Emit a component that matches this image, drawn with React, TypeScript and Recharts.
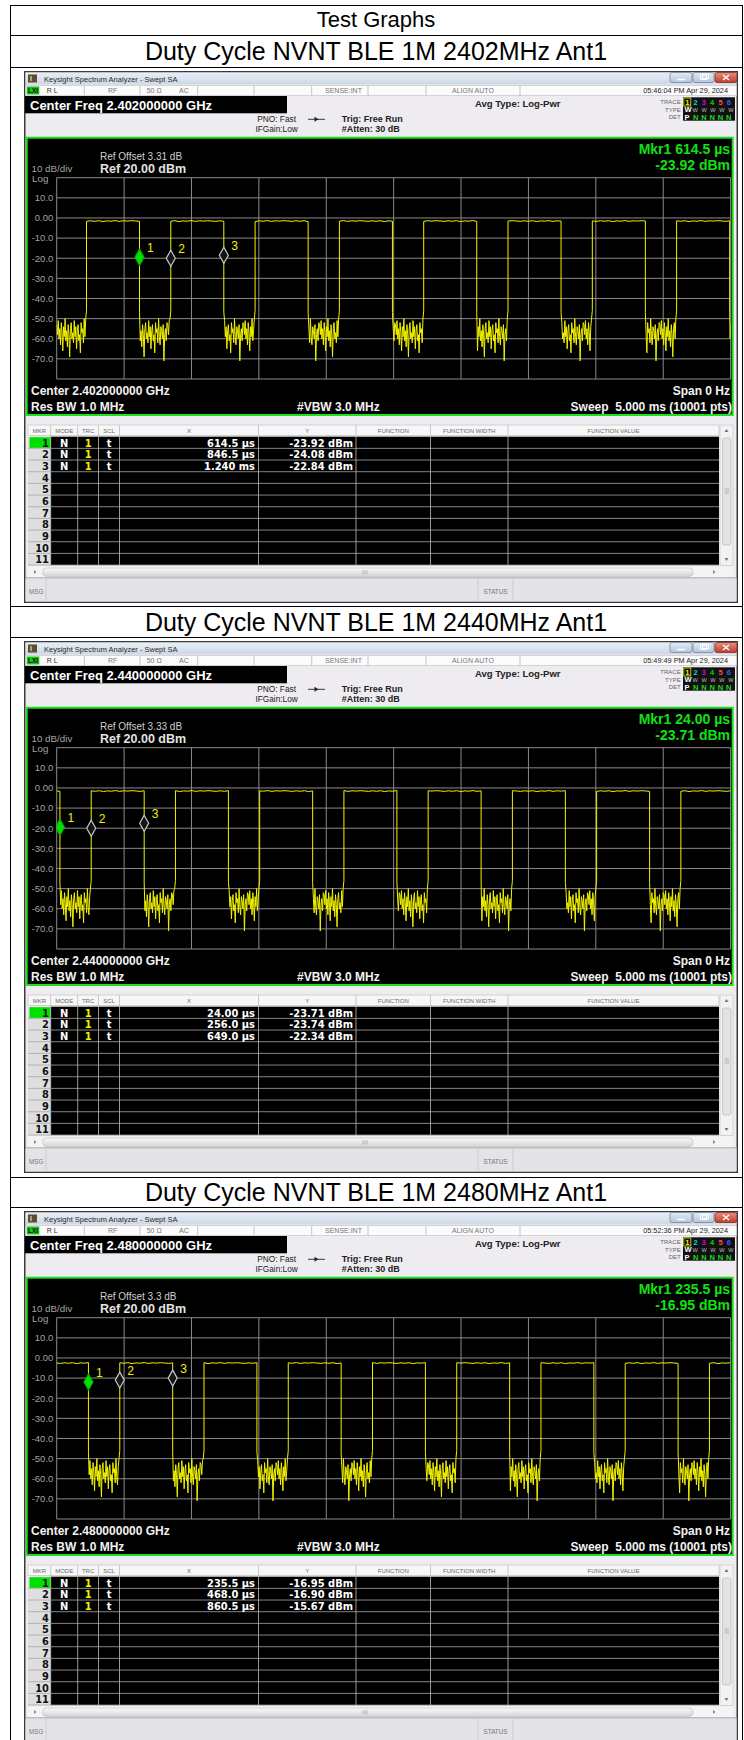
import { ComposedChart, Line, Scatter, XAxis, YAxis, CartesianGrid } from "recharts";

const SANS = "'Liberation Sans', Arial, sans-serif";
const NARROW = "'Liberation Sans Narrow', 'DejaVu Sans Condensed', 'Liberation Sans', sans-serif";

const SWEEP_US = 5000;
const TIME_TICKS = [0, 500, 1000, 1500, 2000, 2500, 3000, 3500, 4000, 4500, 5000];
const LEVEL_TICKS = [20, 10, 0, -10, -20, -30, -40, -50, -60, -70, -80];

// off-state noise floor (dBm)
const NOISE_DBM = [
  -53, -58, -51, -60, -55, -63, -52, -57, -66, -54, -59, -50,
  -61, -56, -64, -53, -58, -69, -55, -52, -60, -57, -62, -51,
  -59, -54, -65, -56, -53, -61, -58, -67, -52, -57, -55, -62,
  -50, -59, -63, -54, -56, -60, -53, -71, -58, -55, -61, -52,
];
const ON_RIPPLE_DB = [0, -0.2, 0.1, -0.15, 0.15, -0.3, 0.05, -0.1, 0.2, -0.2, 0.1, -0.05, 0.15];
const EDGE_FALL_DBM = -47;
const EDGE_RISE_DBM = [-50, -46];

const TITLES = [
  "Duty Cycle NVNT BLE 1M 2402MHz Ant1",
  "Duty Cycle NVNT BLE 1M 2440MHz Ant1",
  "Duty Cycle NVNT BLE 1M 2480MHz Ant1",
];
const CENTER_GHZ = ["2.402000000", "2.440000000", "2.480000000"];
const REF_OFFSET_DB = ["3.31", "3.33", "3.3"];
const TIMESTAMPS = ["05:46:04 PM Apr 29, 2024", "05:49:49 PM Apr 29, 2024", "05:52:36 PM Apr 29, 2024"];
const ON_LEVEL_DBM = [-1.5, -1.5, -2.5];

// pulse edges, µs
const RISE_2402 = [221, 846.5, 1472, 2097.5, 2723, 3348.5, 3974, 4599.5];
const FALL_2402 = [614.5, 1240, 1865.5, 2491, 3116.5, 3742, 4367.5, 4993];
const RISE_2440 = [256, 881, 1506, 2131, 2756, 3381, 4006, 4631];
const FALL_2440 = [24, 649, 1274, 1899, 2524, 3149, 3774, 4399];
const RISE_2480 = [468, 1093, 1718, 2343, 2968, 3593, 4218, 4843];
const FALL_2480 = [235.5, 860.5, 1485.5, 2110.5, 2735.5, 3360.5, 3985.5, 4610.5];

// marker table
const MKR_T_2402 = [614.5, 846.5, 1240];
const MKR_Y_2402 = [-23.92, -24.08, -22.84];
const MKR_T_2440 = [24, 256, 649];
const MKR_Y_2440 = [-23.71, -23.74, -22.34];
const MKR_T_2480 = [235.5, 468, 860.5];
const MKR_Y_2480 = [-16.95, -16.9, -15.67];
// level where the diamonds are drawn on screen
const MKR_DRAWN_2402 = [-19.5, -20, -18.5];
const MKR_DRAWN_2440 = [-19.5, -20, -17.5];
const MKR_DRAWN_2480 = [-12, -11, -10];

const SECTIONS = [
  { rise: RISE_2402, fall: FALL_2402, mt: MKR_T_2402, my: MKR_Y_2402, md: MKR_DRAWN_2402 },
  { rise: RISE_2440, fall: FALL_2440, mt: MKR_T_2440, my: MKR_Y_2440, md: MKR_DRAWN_2440 },
  { rise: RISE_2480, fall: FALL_2480, mt: MKR_T_2480, my: MKR_Y_2480, md: MKR_DRAWN_2480 },
];

const TITLE_TOP = [35.5, 606.5, 1177];
const SCREEN_TOP = [71, 640.5, 1211];

type Pt = { t: number; v: number };

function buildTrace(rise: number[], fall: number[], onLevel: number): Pt[] {
  const edges = [...rise.map((t) => ({ t, up: true })), ...fall.map((t) => ({ t, up: false }))].sort((a, b) => a.t - b.t);
  const pts: Pt[] = [];
  let on = !edges[0].up;
  let from = 0;
  let gap = 0;
  const stops = [...edges.map((e) => e.t), SWEEP_US];
  stops.forEach((to, i) => {
    const span = to - from;
    if (on) {
      const n = Math.max(2, Math.round(span / 30) + 1);
      for (let k = 0; k < n; k++) {
        pts.push({ t: from + (span * k) / (n - 1), v: onLevel + ON_RIPPLE_DB[(k + i) % ON_RIPPLE_DB.length] });
      }
    } else {
      const n = Math.max(3, Math.round(span / 5.5));
      for (let k = 0; k < n; k++) {
        let v = NOISE_DBM[(gap * 11 + k) % NOISE_DBM.length];
        if (k === 0 && from > 0) v = EDGE_FALL_DBM;
        if (to < SWEEP_US && k === n - 2) v = EDGE_RISE_DBM[0];
        if (to < SWEEP_US && k === n - 1) v = EDGE_RISE_DBM[1];
        pts.push({ t: from + (span * k) / (n - 1), v });
      }
      gap++;
    }
    on = !on;
    from = to;
  });
  return pts;
}

const fmtTime = (t: number) => (t < 1000 ? `${t.toPrecision(4)} µs` : `${(t / 1000).toPrecision(4)} ms`);
const fmtLevel = (v: number) => (v === 20 || v === -80 ? "" : v === 0 ? "0.00" : v.toFixed(1));

const MarkerShape = (p: any) => {
  const { cx, cy, payload } = p;
  const active = payload.n === 1;
  return (
    <g>
      <polygon
        points={`${cx},${cy - 8} ${cx + 4.5},${cy} ${cx},${cy + 8} ${cx - 4.5},${cy}`}
        fill={active ? "#00e000" : "#151515"}
        stroke={active ? "#00b400" : "#c8c8c8"}
        strokeWidth={1.2}
      />
      <text x={cx + 7.5} y={cy - 5.5} fill="#f0f000" fontSize={12} fontFamily={SANS}>
        {payload.n}
      </text>
    </g>
  );
};

const COLS = [4, 26.7, 53.7, 74.5, 95.5, 234.5, 332, 406.5, 484, 695];
const HEADS = ["MKR", "MODE", "TRC", "SCL", "X", "Y", "FUNCTION", "FUNCTION WIDTH", "FUNCTION VALUE"];
const ROW0 = 365.7;
const ROW_H = 11.67;
const STATUS_SEPS = [60.3, 116, 173.7, 230, 287.7, 344, 402, 496];

function Chrome({ idx }: { idx: number }) {
  const g = `s${idx}`;
  const s = SECTIONS[idx];
  const rows = Array.from({ length: 11 }, (_, i) => i);
  return (
    <svg width={714} height={532} style={{ position: "absolute", left: 0, top: 0 }} fontFamily={SANS}>
      <defs>
        <linearGradient id={`${g}tb`} x1="0" y1="0" x2="0" y2="1">
          <stop offset="0" stopColor="#e8eef6" />
          <stop offset="1" stopColor="#cdd8e6" />
        </linearGradient>
        <linearGradient id={`${g}bt`} x1="0" y1="0" x2="0" y2="1">
          <stop offset="0" stopColor="#e4ecf6" />
          <stop offset="1" stopColor="#b4c6dc" />
        </linearGradient>
        <linearGradient id={`${g}cl`} x1="0" y1="0" x2="0" y2="1">
          <stop offset="0" stopColor="#e8907f" />
          <stop offset="1" stopColor="#c03c2c" />
        </linearGradient>
        <linearGradient id={`${g}sb`} x1="0" y1="0" x2="0" y2="1">
          <stop offset="0" stopColor="#fafafa" />
          <stop offset="1" stopColor="#d4d4d8" />
        </linearGradient>
      </defs>
      <rect x={0.75} y={0.75} width={712.5} height={530.5} fill="#eeecf0" stroke="#3a3a3a" strokeWidth={1.5} />

      {/* window title bar */}
      <rect x={1.5} y={1.5} width={711} height={12} fill={`url(#${g}tb)`} />
      <rect x={4} y={3.5} width={9} height={8} fill="#5c4c34" />
      <rect x={6} y={5} width={2} height={5} fill="#b0a080" />
      <text x={20} y={10.5} fontSize={7.5} fill="#2a2a2a">Keysight Spectrum Analyzer - Swept SA</text>
      <rect x={646} y={1.5} width={22} height={10} rx={2} fill={`url(#${g}bt)`} stroke="#70869f" strokeWidth={0.8} />
      <line x1={653} y1={8.5} x2={661} y2={8.5} stroke="#fff" strokeWidth={1.5} />
      <rect x={669} y={1.5} width={21} height={10} rx={2} fill={`url(#${g}bt)`} stroke="#70869f" strokeWidth={0.8} />
      <rect x={676.5} y={4} width={6} height={4.5} fill="none" stroke="#fff" strokeWidth={1} />
      <rect x={678.5} y={3} width={6} height={4.5} fill="none" stroke="#fff" strokeWidth={1} />
      <rect x={691} y={1.5} width={22} height={10} rx={2} fill={`url(#${g}cl)`} stroke="#8a2a20" strokeWidth={0.8} />
      <path d="M699 4 L705 9 M705 4 L699 9" stroke="#fff" strokeWidth={1.4} />

      {/* status line */}
      <rect x={1.5} y={14.5} width={711} height={10} fill="#fbfbfc" stroke="#c6c6ca" strokeWidth={0.7} />
      <rect x={2.7} y={15.5} width={12.6} height={8} fill="#19c419" />
      <text x={9} y={22.3} fontSize={6.5} fontWeight="bold" fill="#111" textAnchor="middle">LXI</text>
      {STATUS_SEPS.map((x) => (
        <line key={x} x1={x} y1={15} x2={x} y2={24.5} stroke="#b8b8bc" strokeWidth={0.8} />
      ))}
      <text x={22.7} y={22.3} fontSize={7} fill="#333">R L</text>
      <text x={84} y={22.3} fontSize={7} fill="#777">RF</text>
      <text x={122.7} y={22.3} fontSize={7} fill="#777">50 Ω</text>
      <text x={155} y={22.3} fontSize={7} fill="#777">AC</text>
      <text x={301} y={22.3} fontSize={7} fill="#777">SENSE:INT</text>
      <text x={428} y={22.3} fontSize={7} fill="#777">ALIGN AUTO</text>
      <text x={704} y={22.3} fontSize={7.3} fill="#222" textAnchor="end">{TIMESTAMPS[idx]}</text>

      {/* setup area */}
      <rect x={1} y={25} width={262} height={17.3} fill="#000" />
      <text x={6} y={39} fontSize={13} fontWeight="bold" fill="#fff">{`Center Freq ${CENTER_GHZ[idx]} GHz`}</text>
      <text x={252.6} y={51.3} fontSize={8.3} fill="#1a1a1a" textAnchor="middle">PNO: Fast</text>
      <text x={252.6} y={61.3} fontSize={8.3} fill="#1a1a1a" textAnchor="middle">IFGain:Low</text>
      <line x1={284} y1={48.3} x2={301} y2={48.3} stroke="#222" strokeWidth={0.9} />
      <path d="M290.5 45.8 L294.5 48.3 L290.5 50.8 Z" fill="#222" />
      <text x={317.7} y={51.3} fontSize={9} fontWeight="bold" fill="#222">Trig: Free Run</text>
      <text x={317.7} y={61.3} fontSize={9} fontWeight="bold" fill="#222">#Atten: 30 dB</text>
      <text x={451} y={35.5} fontSize={9.5} fontWeight="bold" fill="#222">Avg Type: Log-Pwr</text>
      <text x={656.7} y={32.5} fontSize={6} fill="#666" textAnchor="end">TRACE</text>
      <text x={656.7} y={40.5} fontSize={6} fill="#666" textAnchor="end">TYPE</text>
      <text x={656.7} y={48} fontSize={6} fill="#666" textAnchor="end">DET</text>
      <rect x={659} y={26.3} width={52} height={23.4} fill="#111" />
      <rect x={659.8} y={27} width={7} height={8} fill="none" stroke="#e8e800" strokeWidth={0.8} />
      {["#f0f000", "#00d8d8", "#d800d8", "#00d000", "#ff4a4a", "#3a5cff"].map((c, k) => (
        <text key={k} x={663.3 + k * 8.3} y={33.5} fontSize={7.5} fontWeight="bold" fill={c} textAnchor="middle">{k + 1}</text>
      ))}
      <text x={660.5} y={41.3} fontSize={7.5} fontWeight="bold" fill="#fff">W</text>
      <text x={668.5} y={41.3} fontSize={5.6} fill="#bbb" textLength={41}>WWWWW</text>
      <text x={660.5} y={48.5} fontSize={7.5} fontWeight="bold" fill="#fff">P</text>
      {[0, 1, 2, 3, 4].map((k) => (
        <text key={k} x={671.6 + k * 8.3} y={48.5} fontSize={7.5} fontWeight="bold" fill="#18d818" textAnchor="middle">N</text>
      ))}

      {/* graticule panel */}
      <rect x={2.7} y={66.7} width={706} height={277.3} fill="#000" stroke="#1fe01f" strokeWidth={2} />
      <text x={76} y={88.5} fontSize={10} fill="#cfcfcf">{`Ref Offset ${REF_OFFSET_DB[idx]} dB`}</text>
      <text x={76} y={101.5} fontSize={12.5} fontWeight="bold" fill="#e2e2e2">Ref 20.00 dBm</text>
      <text x={7.5} y={101} fontSize={9.8} fill="#a3a3a3">10 dB/div</text>
      <text x={8} y={111.3} fontSize={9.8} fill="#a3a3a3">Log</text>
      <text x={706} y={82.5} fontSize={14} fontWeight="bold" fill="#12e012" textAnchor="end">{`Mkr1 ${fmtTime(s.mt[0])}`}</text>
      <text x={706} y={98.5} fontSize={14} fontWeight="bold" fill="#12e012" textAnchor="end">{`${s.my[0].toFixed(2)} dBm`}</text>
      <text x={7} y={323.5} fontSize={12} fontWeight="bold" fill="#f2f2f2">{`Center ${CENTER_GHZ[idx]} GHz`}</text>
      <text x={7} y={339.5} fontSize={12} fontWeight="bold" fill="#f2f2f2">Res BW 1.0 MHz</text>
      <text x={273} y={339.5} fontSize={12} fontWeight="bold" fill="#f2f2f2">#VBW 3.0 MHz</text>
      <text x={706} y={323.5} fontSize={12} fontWeight="bold" fill="#f2f2f2" textAnchor="end">Span 0 Hz</text>
      <text x={708} y={339.5} fontSize={12} fontWeight="bold" fill="#f2f2f2" textAnchor="end">{"Sweep\u00a0\u00a05.000 ms (10001 pts)"}</text>

      {/* marker table */}
      <rect x={4} y={354} width={691} height={10.5} fill="#f7f7f7" stroke="#c4c4c4" strokeWidth={0.7} />
      {HEADS.map((h, k) => (
        <text key={h} x={(COLS[k] + COLS[k + 1]) / 2} y={361.8} fontSize={6} fill="#6a6a6a" textAnchor="middle">{h}</text>
      ))}
      <rect x={4} y={ROW0} width={22.7} height={ROW_H * 11} fill="#dedede" />
      <rect x={26.7} y={ROW0} width={668.3} height={ROW_H * 11} fill="#000" />
      <rect x={5.5} y={ROW0 + 0.5} width={21} height={ROW_H - 1} fill="#00e000" />
      {COLS.slice(1, -1).map((x) => (
        <line key={x} x1={x} y1={354} x2={x} y2={ROW0 + ROW_H * 11} stroke="#bdbdbd" strokeWidth={0.8} />
      ))}
      {rows.map((i) => (
        <line key={i} x1={4} y1={ROW0 + ROW_H * (i + 1)} x2={695} y2={ROW0 + ROW_H * (i + 1)} stroke="#a6a6a6" strokeWidth={0.8} />
      ))}
      {rows.map((i) => (
        <text key={i} x={25} y={ROW0 + ROW_H * i + 10} fontSize={11} fontWeight="bold" fill="#111" textAnchor="end" fontFamily={NARROW}>{i + 1}</text>
      ))}
      {s.mt.map((t, i) => {
        const y = ROW0 + ROW_H * i + 10;
        return (
          <g key={i} fontFamily={NARROW} fontSize={11} fontWeight="bold">
            <text x={40.2} y={y} fill="#fff" textAnchor="middle">N</text>
            <text x={64.1} y={y} fill="#f0f000" textAnchor="middle">1</text>
            <text x={85} y={y} fill="#fff" textAnchor="middle">t</text>
            <text x={231} y={y} fill="#fff" textAnchor="end">{fmtTime(t)}</text>
            <text x={329} y={y} fill="#fff" textAnchor="end">{`${s.my[i].toFixed(2)} dBm`}</text>
          </g>
        );
      })}
      {/* vertical scrollbar */}
      <rect x={696} y={354} width={13} height={140.5} fill="#f2f2f2" stroke="#c8c8c8" strokeWidth={0.7} />
      <path d="M700.5 361 L702.5 358 L704.5 361 Z" fill="#777" />
      <rect x={698.5} y={367} width={8.5} height={107} rx={2} fill="#e2e2e4" stroke="#bcbcbc" strokeWidth={0.7} />
      <path d="M700.5 418 H705 M700.5 420 H705 M700.5 422 H705" stroke="#999" strokeWidth={0.6} />
      <path d="M700.5 487 L702.5 490 L704.5 487 Z" fill="#777" />
      {/* horizontal scrollbar */}
      <rect x={4} y={495.5} width={705} height={11} fill="#f4f4f5" />
      <path d="M12.5 501 L10 499 L10 503 Z" fill="#888" />
      <rect x={18.7} y={497} width={650.3} height={8.5} rx={4} fill={`url(#${g}sb)`} stroke="#c2c2c2" strokeWidth={0.7} />
      <path d="M339 499 V503.5 M341 499 V503.5 M343 499 V503.5" stroke="#999" strokeWidth={0.6} />
      <path d="M689 499 L691.5 501 L689 503 Z" fill="#888" />
      {/* message bar */}
      <line x1={1.5} y1={507} x2={712.5} y2={507} stroke="#8c8c8c" strokeWidth={1} />
      <rect x={1.5} y={507.5} width={711} height={23} fill="#e4e3e8" />
      <line x1={22} y1={508} x2={22} y2={530.5} stroke="#c4c4c8" strokeWidth={0.8} />
      <line x1={454} y1={508} x2={454} y2={530.5} stroke="#c4c4c8" strokeWidth={0.8} />
      <line x1={489} y1={508} x2={489} y2={530.5} stroke="#c4c4c8" strokeWidth={0.8} />
      <text x={5} y={522.5} fontSize={6.3} fill="#777">MSG</text>
      <text x={471.5} y={522.5} fontSize={6.3} fill="#777" textAnchor="middle">STATUS</text>
    </svg>
  );
}

function Screen({ idx }: { idx: number }) {
  const s = SECTIONS[idx];
  const trace = buildTrace(s.rise, s.fall, ON_LEVEL_DBM[idx]);
  const markers = s.mt.map((t, i) => ({ t, v: s.md[i], n: i + 1 }));
  return (
    <div style={{ position: "absolute", left: 24, top: SCREEN_TOP[idx], width: 714, height: 532 }}>
      <Chrome idx={idx} />
      <div style={{ position: "absolute", left: 0, top: 100 }}>
        <ComposedChart width={710} height={215} margin={{ top: 6.7, right: 3.4, bottom: 7, left: 0 }}>
          <CartesianGrid stroke="#8a8a8a" strokeWidth={1} />
          <XAxis type="number" dataKey="t" domain={[0, SWEEP_US]} ticks={TIME_TICKS} hide allowDataOverflow />
          <YAxis
            type="number"
            domain={[-80, 20]}
            ticks={LEVEL_TICKS}
            interval={0}
            width={32.7}
            tickLine={false}
            axisLine={false}
            tickSize={0}
            tickMargin={3.4}
            tick={{ fill: "#a3a3a3", fontSize: 9.5, fontFamily: SANS }}
            tickFormatter={fmtLevel}
            allowDataOverflow
          />
          <Line data={trace} dataKey="v" stroke="#f2f200" strokeWidth={1} dot={false} activeDot={false} isAnimationActive={false} />
          <Scatter data={markers} dataKey="v" shape={MarkerShape} isAnimationActive={false} />
        </ComposedChart>
      </div>
    </div>
  );
}

const titleStyle = (top: number, h: number, size: number): React.CSSProperties => ({
  position: "absolute",
  left: 10,
  top,
  width: 732,
  height: h,
  lineHeight: `${h}px`,
  textAlign: "center",
  fontFamily: SANS,
  fontSize: size,
  color: "#000",
});

export default function App() {
  const hLines = [5, 35.5, 67, 606.5, 637, 1177, 1207.5];
  return (
    <div style={{ position: "absolute", left: 0, top: 0, width: 744, height: 1740, background: "#fff", overflow: "hidden" }}>
      {hLines.map((y) => (
        <div key={y} style={{ position: "absolute", left: 10, top: y - 0.5, width: 733, height: 1.2, background: "#000" }} />
      ))}
      <div style={{ position: "absolute", left: 9.5, top: 5, width: 1.2, height: 1740, background: "#000" }} />
      <div style={{ position: "absolute", left: 742, top: 5, width: 1.2, height: 1740, background: "#000" }} />
      <div style={titleStyle(5, 30.5, 22)}>Test Graphs</div>
      {TITLES.map((t, i) => (
        <div key={t} style={titleStyle(TITLE_TOP[i], 31, 25)}>{t}</div>
      ))}
      {[0, 1, 2].map((i) => (
        <Screen key={i} idx={i} />
      ))}
    </div>
  );
}
